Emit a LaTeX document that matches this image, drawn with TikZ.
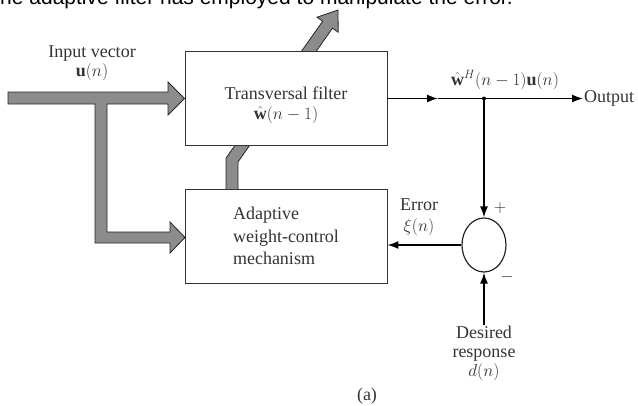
\documentclass[tikz,border=0pt]{standalone}
\usepackage{fontspec}
\setmainfont{Liberation Serif}
\newfontfamily\capfont{Liberation Sans}
\usetikzlibrary{arrows.meta,shapes.geometric,positioning,calc}
\tikzset{
  blockbox/.style={draw=black!80,line width=0.9pt,fill=white,
    minimum width=202pt,minimum height=94pt,inner sep=0pt},
  sig/.style={line width=1.6pt,-{Latex[length=11pt,width=8pt]}},
  fatarrow/.style={draw=black!85,line width=0.8pt,fill=black!45},
  lbl/.style={inner sep=1pt,text=black!80,font=\fontsize{18}{19}\selectfont},
}
\begin{document}
\begin{tikzpicture}[x=1pt,y=-1pt]
   \useasboundingbox (0,0) rectangle (638,405);
   \clip (0,0) rectangle (638,405);
   \node[anchor=base west,inner sep=0pt,font=\capfont\fontsize{21}{25}\selectfont] (caption) at (-12.8,4.5)
     {The adaptive filter has employed to manipulate the error.};
   % weight update arrow, partly hidden by the filter block
   \filldraw[fatarrow] (226,189) -- (226,158.1) -- (322.7,21.2) -- (317,17.2) -- (338,10)
     -- (338.2,32.2) -- (332.5,28.2) -- (238,161.9) -- (238,189);
   \node[blockbox] (filter) at (286,98.5) {};
   \node[lbl,align=center,font=\fontsize{18}{20}\selectfont] (filtertext) at ([yshift=-7pt]filter.center)
     {Transversal filter\\$\hat{\mathbf{w}}(n-1)$};
   \node[blockbox,align=left,font=\fontsize{18}{22.5}\selectfont,text=black!80] (adapt) at (286,236)
     {Adaptive\\weight-control\\mechanism};
   % input vector arrows
   \filldraw[fatarrow] (8,92) -- (168,92) -- (168,82) -- (filter.west) -- (168,115) -- (168,104)
     -- (107,104) -- (107,232) -- (170,232) -- (170,222) -- (185,237.5) -- (170,253) -- (170,243)
     -- (95,243) -- (95,104) -- (8,104) -- cycle;
   \node[draw=black!85,ellipse,line width=1.2pt,minimum width=44pt,minimum height=54pt,inner sep=0pt]
     (sum) at (484,245) {};
   \coordinate (fmid) at (438,98.5);
   \coordinate (jn) at (484,98.5);
   \coordinate (out) at (583,98.5);
   \coordinate (dsrc) at (484,325);
   \draw[sig] (filter.east) -- (fmid);
   \draw[line width=1.6pt] (fmid) -- (jn);
   \draw[sig] (jn) -- (out);
   \draw[sig] (jn) -- (sum.north);
   \fill (jn) circle (2pt);
   \draw[sig] (sum.west) -- (adapt.east |- sum.west);
   \draw[sig] (dsrc) -- (sum.south);
   % labels
   \node[lbl,align=center] (inlbl) at (92,63) {Input vector\\$\mathbf{u}(n)$};
   \node[lbl] (wlbl) at (505,80) {$\hat{\mathbf{w}}^{H}(n-1)\mathbf{u}(n)$};
   \node[lbl,anchor=west] (outlbl) at (out) {Output};
   \node[lbl,align=center,font=\fontsize{18}{21}\selectfont] (errlbl) at (419,217) {Error\\$\xi(n)$};
   \node[lbl] (plus) at (500,208) {$+$};
   \node[lbl] (minus) at (507,277) {$-$};
   \node[lbl,align=center,anchor=north] (dlbl) at (dsrc) {Desired\\response\\$d(n)$};
   \node[lbl] (tag) at (367,396) {(a)};
\end{tikzpicture}
\end{document}
